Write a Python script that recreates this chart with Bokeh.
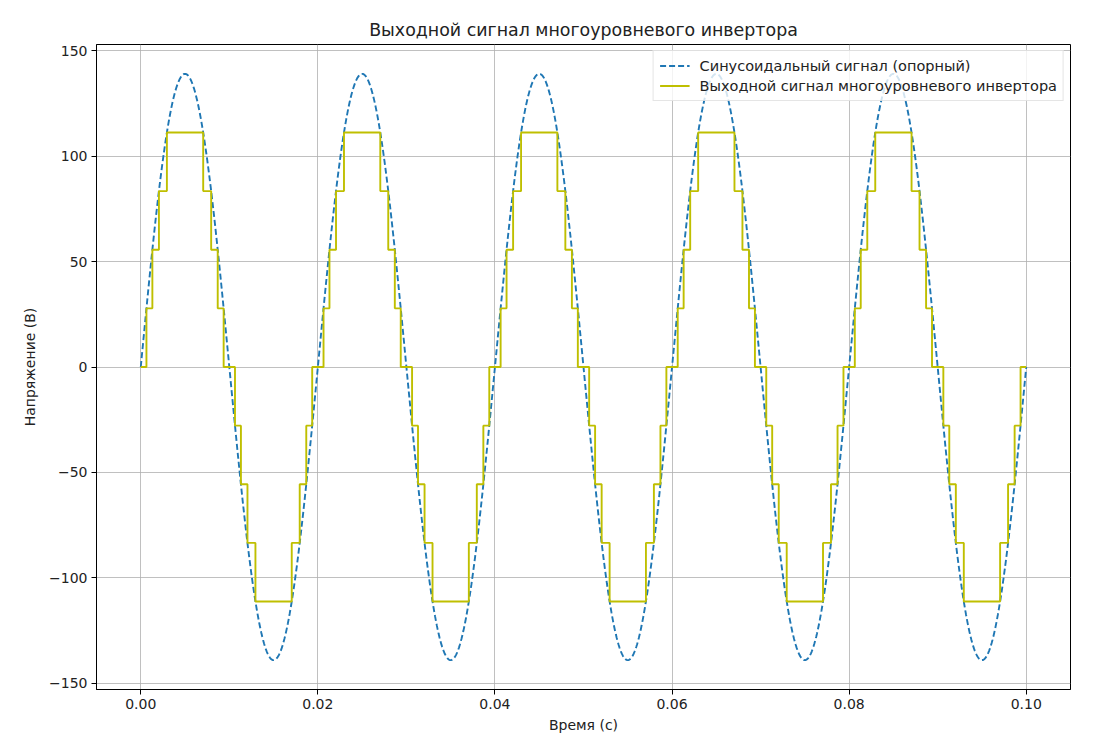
import numpy as np
from bokeh.plotting import figure
from bokeh.models import Range1d, FixedTicker, Legend, LegendItem
from bokeh.embed import file_html
from bokeh.resources import INLINE

# ---- data ----
ref_amplitude = 139.0          # peak of the reference sine (V)
ref_frequency = 50.0           # Hz
t_start, t_end = 0.0, 0.1
n_samples = 1000

# one positive half-cycle of the inverter output: switching instants and levels after them
half_cycle_switch_times = [0.0, 0.00064, 0.00131, 0.00205, 0.00295, 0.00705, 0.00795, 0.00869, 0.00936]
half_cycle_levels = [0.0, 27.8, 55.6, 83.4, 111.2, 83.4, 55.6, 27.8, 0.0]
half_period = 0.01
n_half_cycles = 10

x_ticks = [0.0, 0.02, 0.04, 0.06, 0.08, 0.10]
x_tick_labels = ["0.00", "0.02", "0.04", "0.06", "0.08", "0.10"]
y_ticks = [-150, -100, -50, 0, 50, 100, 150]
y_tick_labels = ["\u2212150", "\u2212100", "\u221250", "0", "50", "100", "150"]

# ---- build series ----
t = np.linspace(t_start, t_end, n_samples)
v_ref = ref_amplitude * np.sin(2 * np.pi * ref_frequency * t)

step_t, step_v = [], []
for h in range(n_half_cycles):
    sign = 1 if h % 2 == 0 else -1
    for ts, lv in zip(half_cycle_switch_times, half_cycle_levels):
        step_t.append(h * half_period + ts)
        step_v.append(sign * lv)
step_t.append(t_end)
step_v.append(0.0)

FONT = "DejaVu Sans"

p = figure(width=1110, height=736, output_backend="svg", toolbar_location=None,
           x_range=Range1d(-0.005, 0.105), y_range=Range1d(-152.9, 152.9),
           min_border_left=96, min_border_right=40, min_border_top=44, min_border_bottom=47,
           title="Выходной сигнал многоуровневого инвертора")
p.background_fill_color = "white"
p.border_fill_color = "white"
p.outline_line_color = "black"
p.outline_line_width = 1

p.title.align = "center"
p.title.text_font = FONT
p.title.text_font_size = "17.4px"
p.title.text_font_style = "normal"
p.title.text_color = "#222222"
p.title.offset = 0

for ax in (p.xaxis[0], p.yaxis[0]):
    ax.major_label_text_font = FONT
    ax.major_label_text_font_size = "14px"
    ax.major_label_text_color = "#222222"
    ax.axis_label_text_font = FONT
    ax.axis_label_text_font_size = "14px"
    ax.axis_label_text_font_style = "normal"
    ax.axis_label_text_color = "#222222"
    ax.axis_line_color = "black"
    ax.major_tick_line_color = "black"
    ax.major_tick_out = 5
    ax.major_tick_in = 0
    ax.minor_tick_line_color = None
    ax.major_label_standoff = 4

p.xaxis[0].ticker = FixedTicker(ticks=x_ticks)
p.xaxis[0].major_label_overrides = {k: v for k, v in zip(x_ticks, x_tick_labels)}
p.yaxis[0].ticker = FixedTicker(ticks=y_ticks)
p.yaxis[0].major_label_overrides = {k: v for k, v in zip(y_ticks, y_tick_labels)}
p.xaxis[0].axis_label = "Время (с)"
p.yaxis[0].axis_label = "Напряжение (В)"
p.xaxis[0].axis_label_standoff = 5
p.yaxis[0].axis_label_standoff = 8

p.xgrid.grid_line_color = "#b0b0b0"
p.ygrid.grid_line_color = "#b0b0b0"
p.xgrid.grid_line_width = 0.8
p.ygrid.grid_line_width = 0.8

r_ref = p.line(t, v_ref, line_color="#1f77b4", line_width=1.9, line_dash="6 3")
r_out = p.step(step_t, step_v, mode="after", line_color="#bfbf00", line_width=1.9)

legend = Legend(items=[
    LegendItem(label="Синусоидальный сигнал (опорный)", renderers=[r_ref]),
    LegendItem(label="Выходной сигнал многоуровневого инвертора", renderers=[r_out]),
], location="top_right")
legend.margin = 6
legend.padding = 6
legend.spacing = 3
legend.glyph_width = 30
legend.glyph_height = 17
legend.label_height = 17
legend.label_standoff = 10
legend.label_text_font = FONT
legend.label_text_font_size = "14.5px"
legend.label_text_color = "#222222"
legend.border_line_color = "#cccccc"
legend.border_line_width = 1
legend.background_fill_alpha = 0.8
p.add_layout(legend, "center")

open("out.html", "w").write(file_html(p, INLINE))
